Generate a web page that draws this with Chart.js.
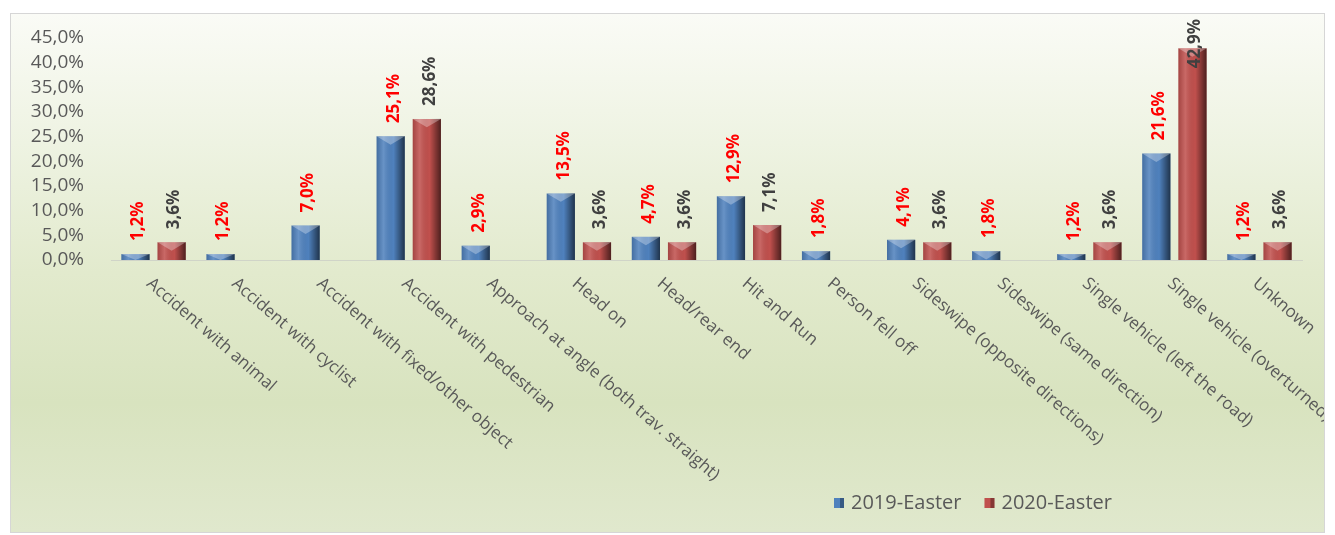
<!DOCTYPE html>
<html>
<head>
<meta charset="utf-8">
<script src="https://cdn.jsdelivr.net/npm/chart.js@4.4.1/dist/chart.umd.min.js"></script>
<style>
  body { margin: 0; background: #ffffff; }
  #box {
    position: absolute; left: 10px; top: 13px; width: 1315px; height: 520px;
    border: 1px solid #d6d6d6; box-sizing: border-box;
    background: linear-gradient(to bottom, #fafbf6 0%, #eef3e2 25%, #e2eacd 50%, #d8e3bf 75%, #e0e8cd 100%);
  }
  canvas { display: block; }
</style>
</head>
<body>
<div id="box"><canvas id="crashChart" width="1313" height="518"></canvas></div>
<script>
// Categories and shares per Easter period (in %)
const categories = [
    "Accident with animal",
    "Accident with cyclist",
    "Accident with fixed/other object",
    "Accident with pedestrian",
    "Approach at angle (both trav. straight)",
    "Head on",
    "Head/rear end",
    "Hit and Run",
    "Person fell off",
    "Sideswipe (opposite directions)",
    "Sideswipe (same direction)",
    "Single vehicle (left the road)",
    "Single vehicle (overturned)",
    "Unknown"
];
const easter2019 = [1.2, 1.2, 7.0, 25.1, 2.9, 13.5, 4.7, 12.9, 1.8, 4.1, 1.8, 1.2, 21.6, 1.2];
const easter2020 = [3.6, null, null, 28.6, null, 3.6, 3.6, 7.1, null, 3.6, null, 3.6, 42.9, 3.6];
const seriesNames = ["2019-Easter", "2020-Easter"];
const labelColors = ["#ff0000", "#404040"];

const pct = v => v.toFixed(1).replace('.', ',') + '%';

// shading, value labels, rotated category labels and legend
const decorate = {
    id: 'decorate',
    afterDatasetsDraw(chart) {
        const ctx = chart.ctx;
        chart.data.datasets.forEach((ds, di) => {
            chart.getDatasetMeta(di).data.forEach((bar, i) => {
                if (ds.data[i] == null) return;
                const w = bar.width, left = bar.x - w / 2, h = bar.base - bar.y;
                ctx.save();
                const g = ctx.createLinearGradient(left, 0, left + w, 0);
                g.addColorStop(0, 'rgba(0,0,0,0.15)');
                g.addColorStop(0.25, 'rgba(255,255,255,0.14)');
                g.addColorStop(0.6, 'rgba(0,0,0,0)');
                g.addColorStop(1, 'rgba(0,0,0,0.6)');
                ctx.fillStyle = g;
                ctx.fillRect(left, bar.y, w, h);
                // bevel on top
                const d = Math.min(w * 0.3, h);
                ctx.beginPath();
                ctx.moveTo(left, bar.y);
                ctx.lineTo(left + w, bar.y);
                ctx.lineTo(bar.x, bar.y + d);
                ctx.closePath();
                ctx.fillStyle = 'rgba(255,255,255,0.3)';
                ctx.fill();
                ctx.restore();
            });
        });
        // value labels
        ctx.save();
        ctx.font = 'bold 17px "Open Sans"';
        ctx.textBaseline = 'middle';
        ctx.textAlign = 'left';
        chart.data.datasets.forEach((ds, di) => {
            chart.getDatasetMeta(di).data.forEach((bar, i) => {
                const v = ds.data[i];
                if (v == null) return;
                const txt = pct(v);
                const tw = ctx.measureText(txt).width;
                let bottom = bar.y - 13;
                if (bottom - tw < 5) bottom = 5 + tw;
                ctx.save();
                ctx.translate(bar.x + 3, bottom);
                ctx.rotate(-Math.PI / 2);
                ctx.fillStyle = labelColors[di];
                ctx.fillText(txt, 0, 0);
                ctx.restore();
            });
        });
        ctx.restore();
    },
    afterDraw(chart) {
        const ctx = chart.ctx;
        const xs = chart.scales.x;
        ctx.save();
        ctx.font = '17px "Open Sans"';
        ctx.fillStyle = '#595959';
        ctx.textAlign = 'left';
        ctx.textBaseline = 'top';
        categories.forEach((c, i) => {
            ctx.save();
            ctx.translate(xs.getPixelForTick(i) + 1, chart.chartArea.bottom + 15);
            ctx.rotate(0.71);
            ctx.fillText(c, 0, 0);
            ctx.restore();
        });
        // legend
        ctx.font = '20px "Open Sans"';
        ctx.textBaseline = 'middle';
        let lx = 823;
        const ly = 489;
        chart.data.datasets.forEach(ds => {
            ctx.fillStyle = ds.backgroundColor;
            ctx.fillRect(lx, ly - 5, 10, 10);
            ctx.fillStyle = 'rgba(0,0,0,0.3)';
            ctx.fillRect(lx + 6, ly - 5, 4, 10);
            ctx.fillStyle = '#595959';
            ctx.fillText(ds.label, lx + 17, ly);
            lx += 17 + ctx.measureText(ds.label).width + 23;
        });
        ctx.restore();
    }
};

const ctx = document.getElementById('crashChart').getContext('2d');
const crashChart = new Chart(ctx, {
    type: 'bar',
    data: {
        labels: categories,
        datasets: [
            { label: seriesNames[0], data: easter2019, backgroundColor: '#4f81bd' },
            { label: seriesNames[1], data: easter2020, backgroundColor: '#c0504d' }
        ]
    },
    options: {
        responsive: false,
        animation: false,
        layout: { padding: { left: 10, right: 22, top: 24, bottom: 264 } },
        datasets: { bar: { categoryPercentage: 0.85, barPercentage: 0.78 } },
        plugins: { legend: { display: false }, tooltip: { enabled: false } },
        scales: {
            x: {
                grid: { display: false },
                border: { display: true, color: '#d0d4c8' },
                ticks: { display: false }
            },
            y: {
                min: 0,
                max: 45,
                grid: { display: false },
                border: { display: false },
                afterFit(scale) {
                    scale.width = 90;
                    scale.paddingTop = 0;
                    scale.paddingBottom = 0;
                },
                ticks: {
                    stepSize: 5,
                    autoSkip: false,
                    padding: 19,
                    color: '#595959',
                    font: { family: 'Open Sans', size: 19 },
                    callback: v => pct(v)
                }
            }
        }
    },
    plugins: [decorate]
});
</script>
</body>
</html>
